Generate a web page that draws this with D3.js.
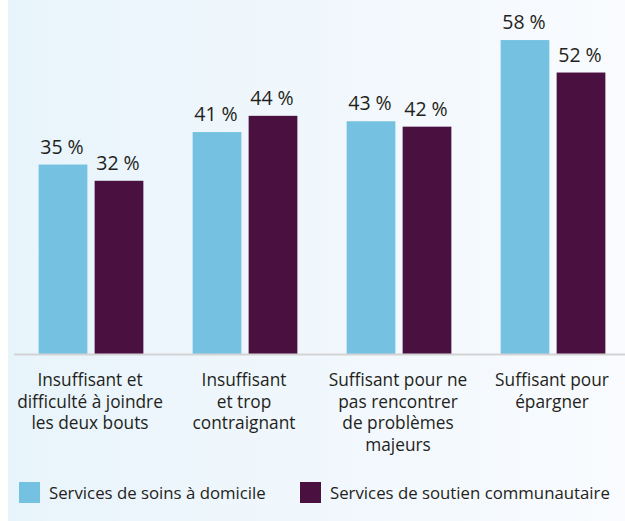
<!DOCTYPE html>
<html>
<head>
<meta charset="utf-8">
<script src="https://cdn.jsdelivr.net/npm/d3@7"></script>
<style>
  body { margin: 0; background: #fff; }
  svg { display: block; font-family: "Open Sans", sans-serif; }
</style>
</head>
<body>
<svg width="625" height="521"></svg>
<script>
// categories (each line of the axis label)
var categories = [
    ["Insuffisant et", "difficulté à joindre", "les deux bouts"],
    ["Insuffisant", "et trop", "contraignant"],
    ["Suffisant pour ne", "pas rencontrer", "de problèmes", "majeurs"],
    ["Suffisant pour", "épargner"]
];
var seriesNames = ["Services de soins à domicile", "Services de soutien communautaire"];
var homeCare = [35, 41, 43, 58];
var community = [32, 44, 42, 52];
var colors = ["#74c1e1", "#4a1040"];

var svg = d3.select("svg");
var baseline = 354;

// background gradient
var defs = svg.append("defs");
var grad = defs.append("linearGradient").attr("id", "bg").attr("x1", 0).attr("x2", 1).attr("y1", 0).attr("y2", 0);
grad.append("stop").attr("offset", "0%").attr("stop-color", "#e8f4fb");
grad.append("stop").attr("offset", "100%").attr("stop-color", "#f9fbfe");
svg.append("rect").attr("x", 8).attr("y", 0).attr("width", 617).attr("height", 521).attr("fill", "url(#bg)");

var x0 = d3.scaleBand().domain(d3.range(categories.length)).range([14, 630]).paddingInner(0.32).paddingOuter(0.16);
var x1 = d3.scaleBand().domain([0, 1]).range([0, x0.bandwidth()]).paddingInner(0.13);
var y = d3.scaleLinear().domain([0, 65.4]).range([baseline, 0]);

var rows = categories.map(function(c, i) {
    return { i: i, values: [homeCare[i], community[i]] };
});

var groups = svg.append("g").selectAll("g")
    .data(rows).enter().append("g")
    .attr("transform", function(d) { return "translate(" + x0(d.i) + ",0)"; });

groups.selectAll("rect")
    .data(function(d) { return d.values.map(function(v, k) { return { k: k, v: v }; }); })
    .enter().append("rect")
    .attr("x", function(d) { return x1(d.k); })
    .attr("y", function(d) { return y(d.v); })
    .attr("width", x1.bandwidth())
    .attr("height", function(d) { return baseline - y(d.v); })
    .attr("fill", function(d) { return colors[d.k]; });

groups.selectAll("text.val")
    .data(function(d) { return d.values.map(function(v, k) { return { k: k, v: v }; }); })
    .enter().append("text")
    .attr("class", "val")
    .attr("x", function(d) { return x1(d.k) + x1.bandwidth() / 2 - 1; })
    .attr("y", function(d) { return y(d.v) - 11; })
    .attr("text-anchor", "middle")
    .attr("font-size", 19.5)
    .attr("fill", "#231f20")
    .text(function(d) { return d.v + " %"; });

// axis line
svg.append("line")
    .attr("x1", 14).attr("x2", 625)
    .attr("y1", baseline + 0.5).attr("y2", baseline + 0.5)
    .attr("stroke", "#d3d3d5").attr("stroke-width", 2);

// category labels
var labels = svg.append("g").selectAll("text")
    .data(categories).enter().append("text")
    .attr("text-anchor", "middle")
    .attr("font-size", 17.3)
    .attr("fill", "#231f20")
    .attr("transform", function(d, i) { return "translate(" + (x0(i) + x0.bandwidth() / 2 - 1) + ",386)"; });

labels.selectAll("tspan")
    .data(function(d) { return d; })
    .enter().append("tspan")
    .attr("x", 0)
    .attr("y", function(d, j) { return j * 21.5; })
    .text(function(d) { return d; });

// legend
var legendX = [19, 300];
var legend = svg.append("g").selectAll("g")
    .data(seriesNames).enter().append("g")
    .attr("transform", function(d, i) { return "translate(" + legendX[i] + ",482)"; });
legend.append("rect").attr("width", 21).attr("height", 21)
    .attr("fill", function(d, i) { return colors[i]; });
legend.append("text").attr("x", 30).attr("y", 16.5)
    .attr("font-size", 16.8).attr("fill", "#231f20")
    .text(function(d) { return d; });
</script>
</body>
</html>
